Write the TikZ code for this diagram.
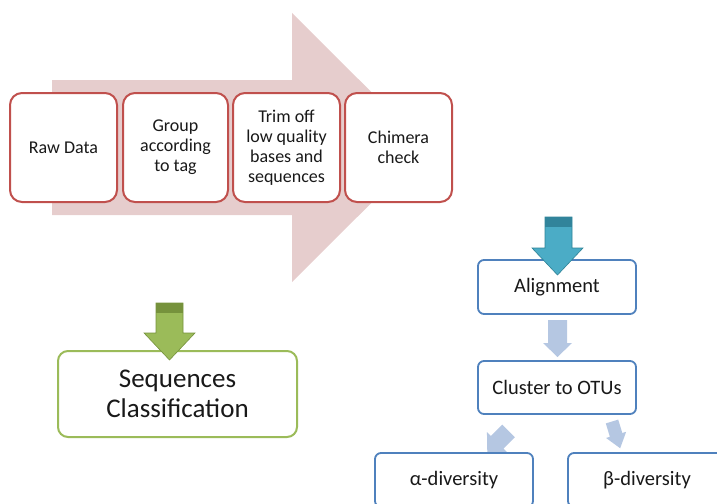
\documentclass[tikz,border=0pt]{standalone}
\usepackage{fontspec}
\setmainfont{Carlito}
\definecolor{pinkarrow}{RGB}{230,205,205}
\definecolor{redline}{RGB}{192,80,77}
\definecolor{greenline}{RGB}{155,187,89}
\definecolor{greenfill}{RGB}{155,187,89}
\definecolor{greendark}{RGB}{118,146,60}
\definecolor{blueline}{RGB}{79,129,189}
\definecolor{tealfill}{RGB}{75,172,198}
\definecolor{tealdark}{RGB}{49,132,155}
\definecolor{tealedge}{RGB}{46,130,150}
\definecolor{lightblue}{RGB}{181,199,226}
\definecolor{txt}{RGB}{25,25,25}
\begin{document}
\begin{tikzpicture}[x=1pt,y=-1pt,
  redbox/.style={draw=redline, line width=2pt, fill=white, rounded corners=12pt,
    minimum height=109pt, align=center, text=txt, inner sep=2pt,
    font=\fontsize{18}{20}\selectfont},
  bluebox/.style={draw=blueline, line width=1.8pt, fill=white, rounded corners=6pt,
    minimum width=158pt, align=center, text=txt,
    font=\fontsize{20.5}{24}\selectfont},
  greenbox/.style={draw=greenline, line width=2pt, fill=white, rounded corners=10pt,
    align=center, text=txt, font=\fontsize{27}{30}\selectfont},
  lightarrow/.style={fill=lightblue, draw=none}
]
\useasboundingbox (0,0) rectangle (717,503);
\begin{scope}
\clip (0,0) rectangle (717,503);

% big pink arrow
\fill[pinkarrow] (52,80) -- (292,80) -- (292,13) -- (427,147.5) -- (292,282) -- (292,215) -- (52,215) -- cycle;

% red boxes
\node[redbox, minimum width=107pt] (raw) at (63.5,147.5) {Raw Data};
\node[redbox, minimum width=105pt] (group) at (175.5,147.5) {Group\\according\\to tag};
\node[redbox, minimum width=107pt] (trim) at (286.5,147.5) {Trim off\\low quality\\bases and\\sequences};
\node[redbox, minimum width=107pt] (chim) at (398.5,147.5) {Chimera\\check};

% green box and arrow
\node[greenbox, minimum width=239pt, minimum height=86pt] (seq) at (177.5,394) {Sequences\\Classification};
\fill[greenfill, draw=greendark, line width=0.6pt] (156,303) -- (183,303) -- (183,333) -- (195,333) -- (169.5,360) -- (144,333) -- (156,333) -- cycle;
\fill[greendark] (156.3,303.3) rectangle (182.7,313);

% blue boxes
\node[bluebox, minimum height=54pt] (align) at (557,287) {Alignment};
\node[bluebox, minimum height=53pt] (cluster) at (557,387.5) {Cluster to OTUs};

% teal arrow onto Alignment
\fill[tealfill, draw=tealedge, line width=0.6pt] (545,217) -- (572,217) -- (572,248) -- (583,248) -- (557.5,275) -- (532,248) -- (545,248) -- cycle;
\fill[tealdark] (545.3,217.3) rectangle (571.7,227);

% light arrow between Alignment and Cluster
\fill[lightarrow] (548,320) -- (567,320) -- (567,343) -- (572,343) -- (557.5,357) -- (543,343) -- (548,343) -- cycle;

% diagonal light arrows
\begin{scope}[shift={(508.5,431)}, rotate=-45]
  \fill[lightarrow] (-9,0) -- (9,0) -- (9,16) -- (14.5,16) -- (0,30) -- (-14.5,16) -- (-9,16) -- cycle;
\end{scope}
\begin{scope}[shift={(612,421.5)}, rotate=17]
  \fill[lightarrow] (-6.5,0) -- (6.5,0) -- (6.5,14) -- (10.5,14) -- (0,28) -- (-10.5,14) -- (-6.5,14) -- cycle;
\end{scope}

% diversity boxes (cut by lower edge)
\node[bluebox, minimum height=54pt] (alpha) at (454,480) {α-diversity};
\node[bluebox, minimum height=54pt] (beta) at (647,480) {β-diversity};
\end{scope}
\end{tikzpicture}
\end{document}
